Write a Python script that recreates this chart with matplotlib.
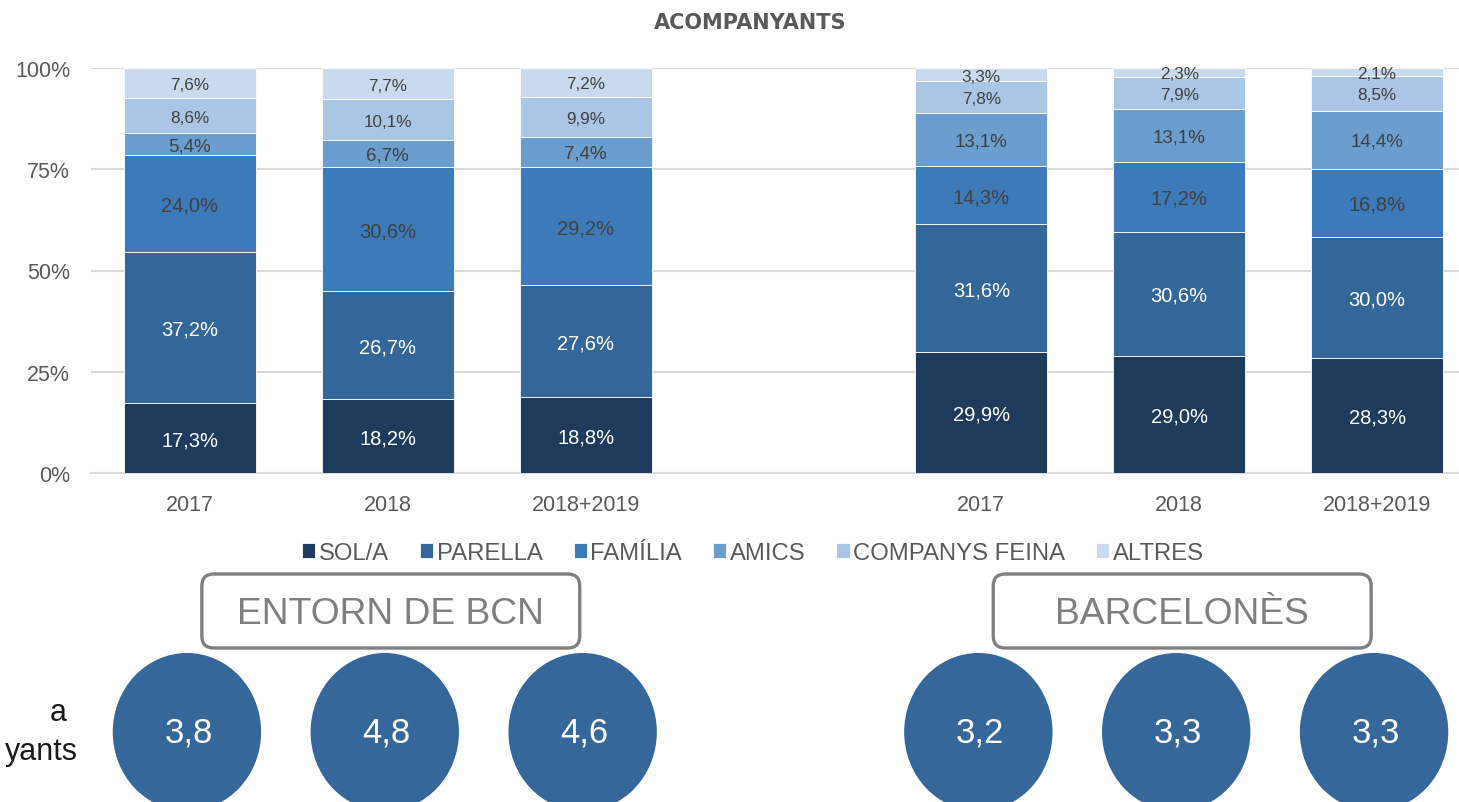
import numpy as np
import matplotlib
matplotlib.use("Agg")
import matplotlib.pyplot as plt
from matplotlib.patches import FancyBboxPatch, Ellipse

plt.rcParams['font.family'] = ['Liberation Sans', 'DejaVu Sans']

# dades
years = ["2017", "2018", "2018+2019", "2017", "2018", "2018+2019"]
x_pos = [0, 1, 2, 4, 5, 6]
series = ["SOL/A", "PARELLA", "FAMÍLIA", "AMICS", "COMPANYS FEINA", "ALTRES"]
sola = [17.3, 18.2, 18.8, 29.9, 29.0, 28.3]
parella = [37.2, 26.7, 27.6, 31.6, 30.6, 30.0]
familia = [24.0, 30.6, 29.2, 14.3, 17.2, 16.8]
amics = [5.4, 6.7, 7.4, 13.1, 13.1, 14.4]
feina = [8.6, 10.1, 9.9, 7.8, 7.9, 8.5]
altres = [7.6, 7.7, 7.2, 3.3, 2.3, 2.1]
groups = ["ENTORN DE BCN", "BARCELONÈS"]
group_pos = [[0, 1, 2], [4, 5, 6]]
mitjana = [3.8, 4.8, 4.6, 3.2, 3.3, 3.3]

colors = ["#1f3b5c", "#336699", "#3d7aba", "#6b9ecf", "#abc6e4", "#c9daee"]
label_cols = ["white", "white", "#404040", "#404040", "#404040", "#404040"]
label_fs = [14.5, 14.5, 14.5, 13.5, 12.3, 12.3]
grey = "#595959"

W, H = 1459, 803
fig = plt.figure(figsize=(W / 100, H / 100), dpi=100)
ax = fig.add_axes([91 / W, 1 - 474 / H, (1476 - 91) / W, (474 - 69) / H])

vals = [sola, parella, familia, amics, feina, altres]
bottom = np.zeros(len(x_pos))
for i, v in enumerate(vals):
    v = np.array(v)
    ax.bar(x_pos, v, 0.667, bottom=bottom, color=colors[i], edgecolor="white",
           linewidth=0.6, label=series[i], zorder=3)
    for x, b, h in zip(x_pos, bottom, v):
        ax.text(x, b + h / 2 - 0.4, f"{h:.1f}".replace(".", ",") + "%", ha="center", va="center",
                color=label_cols[i], fontsize=label_fs[i], zorder=4)
    bottom += v

ax.set_xlim(-0.5, 6.5)
ax.set_ylim(0, 100)
ax.set_yticks([0, 25, 50, 75, 100])
ax.set_yticklabels(["0%", "25%", "50%", "75%", "100%"])
ax.set_xticks(x_pos)
ax.set_xticklabels(years)
ax.tick_params(axis="both", length=0, labelsize=15.5, labelcolor=grey)
ax.tick_params(axis="y", pad=15)
ax.tick_params(axis="x", pad=15)
ax.grid(axis="y", color="#d9d9d9", linewidth=1.5, zorder=0)
for s in ["top", "right", "left"]:
    ax.spines[s].set_visible(False)
ax.spines["bottom"].set_color("#d9d9d9")
ax.spines["bottom"].set_linewidth(1.5)

fig.text(750 / W, 1 - 23 / H, "ACOMPANYANTS", ha="center", va="center", fontsize=15,
         fontweight="bold", color=grey, family="DejaVu Sans")

fig.legend(loc="center", bbox_to_anchor=(753 / W, 1 - 554 / H), ncol=6, frameon=False,
           fontsize=17.2, labelcolor=grey, handlelength=0.55, handleheight=0.55,
           handletextpad=0.15, columnspacing=1.3)

# capa inferior: caixes i cercles (coordenades en píxels)
ov = fig.add_axes([0, 0, 1, 1], zorder=-1)
ov.set_xlim(0, W)
ov.set_ylim(H, 0)
ov.axis("off")


def px(x):
    return ax.transData.transform([[x, 0]])[0, 0]


step = px(1) - px(0)
for name, gp in zip(groups, group_pos):
    xc = px(np.mean(gp)) + 3
    bw = 1.91 * step
    box = FancyBboxPatch((xc - bw / 2, 575), bw, 74, boxstyle="round,pad=0,rounding_size=12",
                         facecolor="white", edgecolor="#808080", linewidth=2.4)
    ov.add_patch(box)
    ov.text(xc, 615, name, ha="center", va="center", fontsize=26.8, color="#7f7f7f")

for x, m in zip(x_pos, mitjana):
    cx = px(x) - 3
    ov.add_patch(Ellipse((cx, 733), 0.75 * step, 158, facecolor="#35679a", edgecolor="none"))
    ov.text(cx + 2, 733, f"{m:.1f}".replace(".", ","), ha="center", va="center",
            fontsize=25, color="white")

# etiqueta tallada a l'esquerra (només se'n veu el final)
ov.text(67, 713, "a", ha="right", va="center", fontsize=22, color="#1a1a1a")
ov.text(78, 752, "yants", ha="right", va="center", fontsize=22, color="#1a1a1a")

fig.savefig("out.png", dpi=100)
